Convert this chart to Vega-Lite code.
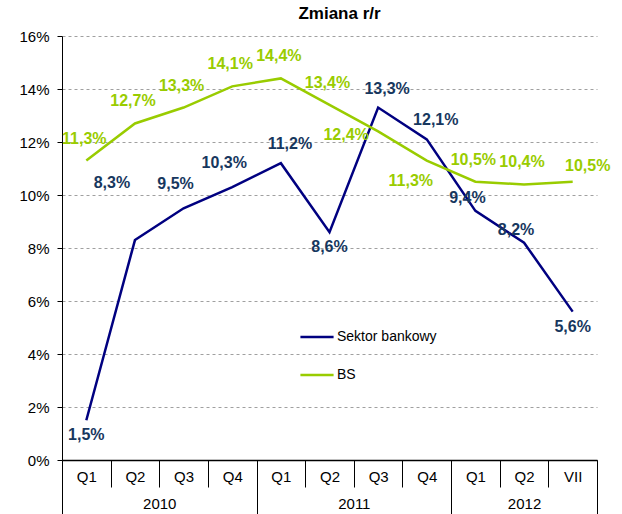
{
  "$schema": "https://vega.github.io/schema/vega-lite/v6.json",
  "width": 535,
  "height": 424,
  "padding": {"left": 18, "top": 5, "right": 5, "bottom": 0},
  "title": {"text": "Zmiana r/r", "fontSize": 17, "font": "Liberation Sans", "fontWeight": "bold", "color": "#000000", "offset": 6, "dx": 10},
  "config": {"view": {"stroke": null}, "font": "Liberation Sans"},
  "data": {"values": [
    {"i": 0, "series": "Sektor bankowy", "v": 1.5},
    {"i": 1, "series": "Sektor bankowy", "v": 8.3},
    {"i": 2, "series": "Sektor bankowy", "v": 9.5},
    {"i": 3, "series": "Sektor bankowy", "v": 10.3},
    {"i": 4, "series": "Sektor bankowy", "v": 11.2},
    {"i": 5, "series": "Sektor bankowy", "v": 8.6},
    {"i": 6, "series": "Sektor bankowy", "v": 13.3},
    {"i": 7, "series": "Sektor bankowy", "v": 12.1},
    {"i": 8, "series": "Sektor bankowy", "v": 9.4},
    {"i": 9, "series": "Sektor bankowy", "v": 8.2},
    {"i": 10, "series": "Sektor bankowy", "v": 5.6},
    {"i": 0, "series": "BS", "v": 11.3},
    {"i": 1, "series": "BS", "v": 12.7},
    {"i": 2, "series": "BS", "v": 13.3},
    {"i": 3, "series": "BS", "v": 14.1},
    {"i": 4, "series": "BS", "v": 14.4},
    {"i": 5, "series": "BS", "v": 13.4},
    {"i": 6, "series": "BS", "v": 12.4},
    {"i": 7, "series": "BS", "v": 11.3},
    {"i": 8, "series": "BS", "v": 10.5},
    {"i": 9, "series": "BS", "v": 10.4},
    {"i": 10, "series": "BS", "v": 10.5}
  ]},
  "transform": [{"calculate": "replace(format(datum.v, '.1f'), '.', ',') + '%'", "as": "lab"}],
  "encoding": {
    "y": {"field": "v", "type": "quantitative",
      "scale": {"domain": [0, 16], "nice": false},
      "axis": {"values": [0, 2, 4, 6, 8, 10, 12, 14, 16], "labelExpr": "datum.value + '%'", "title": null,
        "grid": true, "gridDash": [3, 3], "gridColor": "#a0a0a0", "gridWidth": 1,
        "domainColor": "#000000", "tickColor": "#000000", "tickSize": 5, "labelPadding": 8,
        "labelFontSize": 15, "labelColor": "#000000", "labelFont": "Liberation Sans"}}
  },
  "layer": [
    {
      "mark": {"type": "line", "strokeWidth": 2.5},
      "encoding": {
        "x": {"field": "i", "type": "quantitative", "scale": {"domain": [-0.5, 10.5], "nice": false, "zero": false},
          "axis": {"orient": "bottom", "values": [0, 1, 2, 3, 4, 5, 6, 7, 8, 9, 10], "labelExpr": "['Q1','Q2','Q3','Q4','Q1','Q2','Q3','Q4','Q1','Q2','VII'][datum.value]",
            "title": null, "ticks": false, "grid": false, "domainColor": "#000000", "domainWidth": 1.5, "labelPadding": 9,
            "labelFontSize": 15, "labelColor": "#000000", "labelFont": "Liberation Sans", "labelFlush": false, "labelOverlap": false}},
        "color": {"field": "series", "type": "nominal",
          "scale": {"domain": ["Sektor bankowy", "BS"], "range": ["#000080", "#99CC00"]},
          "legend": {"orient": "none", "legendX": 237, "legendY": 283, "title": null, "symbolType": "stroke",
            "symbolStrokeWidth": 2.5, "symbolSize": 1100, "labelFontSize": 14, "labelColor": "#000000",
            "labelFont": "Liberation Sans", "rowPadding": 13, "labelOffset": 2, "padding": 0}}
      }
    },
    {
      "transform": [{"filter": "datum.series == 'Sektor bankowy' && (datum.i == 0 || datum.i == 5 || datum.i == 10)"}],
      "mark": {"type": "text", "dy": 15, "fontSize": 16, "fontWeight": "bold", "color": "#17375E", "font": "Liberation Sans"},
      "encoding": {
        "x": {"field": "i", "type": "quantitative",
          "axis": {"orient": "bottom", "values": [-0.5, 0.5, 1.5, 2.5, 3.5, 4.5, 5.5, 6.5, 7.5, 8.5, 9.5, 10.5], "labels": false, "domain": false,
            "grid": false, "ticks": true, "tickSize": 27, "tickColor": "#000000", "tickWidth": 1, "title": null}},
        "text": {"field": "lab"}
      }
    },
    {
      "transform": [{"filter": "datum.series == 'Sektor bankowy' && (datum.i == 2 || datum.i == 3)"}],
      "mark": {"type": "text", "dx": -8, "dy": -24, "fontSize": 16, "fontWeight": "bold", "color": "#17375E", "font": "Liberation Sans"},
      "encoding": {
        "x": {"field": "i", "type": "quantitative",
          "axis": {"orient": "bottom", "values": [-0.5, 3.5, 7.5, 10.5], "labels": false, "domain": false,
            "grid": false, "ticks": true, "tickSize": 54, "tickColor": "#000000", "tickWidth": 1, "title": null}},
        "text": {"field": "lab"}
      }
    },
    {
      "transform": [{"filter": "datum.series == 'Sektor bankowy' && (datum.i == 4 || datum.i == 6 || datum.i == 7)"}],
      "mark": {"type": "text", "dx": 9, "dy": -19, "fontSize": 16, "fontWeight": "bold", "color": "#17375E", "font": "Liberation Sans"},
      "encoding": {
        "x": {"field": "i", "type": "quantitative",
          "axis": {"orient": "bottom", "values": [1.5, 5.5, 9], "labelExpr": "datum.value < 3 ? '2010' : datum.value < 7 ? '2011' : '2012'",
            "ticks": false, "domain": false, "grid": false, "labelPadding": 36, "labelFontSize": 15, "labelColor": "#000000",
            "labelFont": "Liberation Sans", "labelFlush": false, "labelOverlap": false, "title": null}},
        "text": {"field": "lab"}
      }
    },
    {
      "transform": [{"filter": "datum.series == 'Sektor bankowy' && datum.i == 1"}],
      "mark": {"type": "text", "dx": -23, "dy": -57, "fontSize": 16, "fontWeight": "bold", "color": "#17375E", "font": "Liberation Sans"},
      "encoding": {"x": {"field": "i", "type": "quantitative", "axis": null}, "text": {"field": "lab"}}
    },
    {
      "transform": [{"filter": "datum.series == 'Sektor bankowy' && (datum.i == 8 || datum.i == 9)"}],
      "mark": {"type": "text", "dx": -8, "dy": -13, "fontSize": 16, "fontWeight": "bold", "color": "#17375E", "font": "Liberation Sans"},
      "encoding": {"x": {"field": "i", "type": "quantitative", "axis": null}, "text": {"field": "lab"}}
    },
    {
      "transform": [{"filter": "datum.series == 'BS' && datum.i != 6 && datum.i != 7 && datum.i != 10"}],
      "mark": {"type": "text", "dx": -2, "dy": -22, "fontSize": 16, "fontWeight": "bold", "color": "#99CC00", "font": "Liberation Sans"},
      "encoding": {"x": {"field": "i", "type": "quantitative", "axis": null}, "text": {"field": "lab"}}
    },
    {
      "transform": [{"filter": "datum.series == 'BS' && datum.i == 10"}],
      "mark": {"type": "text", "dx": 15, "dy": -16, "fontSize": 16, "fontWeight": "bold", "color": "#99CC00", "font": "Liberation Sans"},
      "encoding": {"x": {"field": "i", "type": "quantitative", "axis": null}, "text": {"field": "lab"}}
    },
    {
      "transform": [{"filter": "datum.series == 'BS' && datum.i == 6"}],
      "mark": {"type": "text", "dx": -32, "dy": 4, "fontSize": 16, "fontWeight": "bold", "color": "#99CC00", "font": "Liberation Sans"},
      "encoding": {"x": {"field": "i", "type": "quantitative", "axis": null}, "text": {"field": "lab"}}
    },
    {
      "transform": [{"filter": "datum.series == 'BS' && datum.i == 7"}],
      "mark": {"type": "text", "dx": -16, "dy": 20, "fontSize": 16, "fontWeight": "bold", "color": "#99CC00", "font": "Liberation Sans"},
      "encoding": {"x": {"field": "i", "type": "quantitative", "axis": null}, "text": {"field": "lab"}}
    }
  ],
  "resolve": {"axis": {"x": "independent"}}
}
